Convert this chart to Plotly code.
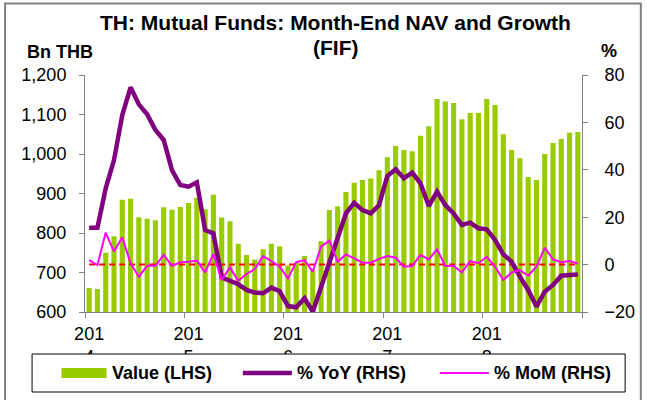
import plotly.graph_objects as go

# ---------------- data ----------------
months = [f"{y}-{m:02d}" for y in range(2014, 2019) for m in range(1, 13)]
year_labels = ["2014", "2015", "2016", "2017", "2018"]

value_lhs = [661, 658, 750, 792, 884, 887, 840, 836, 832, 865, 859, 866,
             876, 889, 860, 897, 839, 830, 773, 744, 733, 759, 773, 766,
             718, 724, 742, 706, 779, 858, 868, 904, 927, 934, 938, 959,
             992, 1020, 1010, 1007, 1046, 1070, 1139, 1133, 1129, 1088, 1104, 1104,
             1139, 1124, 1050, 1010, 989, 942, 934, 1000, 1028, 1038, 1054, 1056]

yoy_rhs = [15.6, 15.6, 32.2, 44.1, 63.1, 74.8, 67.6, 63.4, 56.8, 52.6, 39.9, 33.6,
           32.9, 34.7, 14.6, 13.2, -5.4, -6.9, -8.3, -10.7, -11.8, -12.1, -9.7, -11.2,
           -17.5, -18.0, -14.2, -19.9, -9.3, 1.9, 11.1, 21.6, 26.1, 23.0, 21.6, 25.1,
           37.4, 40.2, 36.4, 38.8, 34.3, 24.7, 30.8, 25.1, 21.6, 16.7, 17.7, 15.3,
           14.9, 10.4, 4.3, 1.2, -5.1, -10.7, -17.7, -11.4, -8.6, -4.7, -4.4, -4.2]

mom_rhs = [1.9, -0.2, 13.5, 5.5, 11.5, 0.5, -5.1, -0.5, -0.5, 4.1, -0.6, 1.0,
           1.2, 1.7, -3.3, 4.5, -6.5, -1.2, -6.8, -4.0, -1.9, 3.6, 1.5, -0.9,
           -5.8, 1.0, 1.9, -3.0, 7.6, 10.1, 1.2, 4.3, 2.6, 0.8, 0.8, 2.4,
           3.6, 2.9, -0.9, -0.6, 4.1, 2.2, 6.4, -0.6, -0.6, -3.3, 1.5, 0.6,
           3.3, -0.9, -6.5, -3.3, -2.3, -4.7, -0.9, 7.1, 2.2, 1.0, 1.5, 0.5]

zero_ref = [0, 0]

lhs_ticks = [600, 700, 800, 900, 1000, 1100, 1200]
rhs_ticks = [-20, 0, 20, 40, 60, 80]

series_names = ["Value (LHS)", "% YoY (RHS)", "% MoM (RHS)"]
title_lines = ["TH: Mutual Funds: Month-End NAV and Growth", "(FIF)"]

# ---------------- layout helpers ----------------
W, H = 647, 400
L, R, T, B = 85, 592, 75, 312
FONT = "Liberation Sans, Arial, sans-serif"
GREEN, PURPLE, MAGENTA, RED = "#99CC00", "#800080", "#FF00FF", "#FF0000"


def px(x):
    return (x - L) / (R - L)


def py(y):
    return (B - y) / (B - T)


xs = list(range(len(months)))
year_pos = [months.index(f"{y}-01") for y in year_labels]
year_text = [f"{s[:3]}<br>{s[3:]}" for s in year_labels]
bounds = [p - 0.5 for p in year_pos] + [len(months) - 0.5]

fig = go.Figure()
fig.add_trace(go.Bar(x=xs, y=value_lhs, name=series_names[0], marker_color=GREEN,
                     marker_line_width=0, width=0.62, showlegend=False))
fig.add_trace(go.Scatter(x=[xs[0], xs[-1]], y=zero_ref, yaxis="y2", mode="lines",
                         line=dict(color=RED, width=2, dash="6px,4px"), showlegend=False))
fig.add_trace(go.Scatter(x=xs, y=yoy_rhs, name=series_names[1], yaxis="y2", mode="lines",
                         line=dict(color=PURPLE, width=4.5), showlegend=False))
fig.add_trace(go.Scatter(x=xs, y=mom_rhs, name=series_names[2], yaxis="y2", mode="lines",
                         line=dict(color=MAGENTA, width=2), showlegend=False))

axis_col = "#808080"
fig.update_layout(
    width=W, height=H,
    margin=dict(l=L, r=W - R, t=T, b=H - B, pad=0),
    paper_bgcolor="white", plot_bgcolor="white",
    font=dict(family=FONT, size=18, color="black"),
    xaxis=dict(range=[-0.5, len(months) - 0.5], showgrid=False, zeroline=False,
               showline=True, linecolor=axis_col, linewidth=1,
               tickmode="array", tickvals=year_pos, ticktext=year_text,
               ticks="", ticklabelstandoff=5,
               tickfont=dict(size=18),
               minor=dict(tickmode="array", tickvals=bounds, ticks="outside",
                          ticklen=5, tickcolor=axis_col, tickwidth=1)),
    yaxis=dict(range=[600, 1200], tickvals=lhs_ticks, tickformat=",d",
               showgrid=False, zeroline=False, showline=True, linecolor=axis_col,
               linewidth=1, ticks="outside", ticklen=5, tickcolor=axis_col,
               ticklabelstandoff=9, tickfont=dict(size=18)),
    yaxis2=dict(range=[-20, 80], tickvals=rhs_ticks, overlaying="y", side="right",
                showgrid=False, zeroline=False, showline=True, linecolor=axis_col,
                linewidth=1, ticks="outside", ticklen=5, tickcolor=axis_col,
                ticklabelstandoff=13, tickfont=dict(size=18)),
    showlegend=False,
)

shapes = []
annotations = []

# title (two lines)
for line, yc in zip(title_lines, [22.5, 47.5]):
    annotations.append(dict(text=line, xref="paper", yref="paper", x=px(341), y=py(yc),
                            xanchor="center", yanchor="middle", showarrow=False,
                            font=dict(family=FONT, size=21, color="black", weight="bold")))

# outer chart frame
shapes.append(dict(type="rect", xref="paper", yref="paper", layer="above",
                   x0=px(3.5), x1=px(652), y0=py(405), y1=py(3.5),
                   line=dict(color="#7f7f7f", width=2), fillcolor="rgba(0,0,0,0)"))

# legend box (covers lower half of the wrapped year labels)
shapes.append(dict(type="rect", xref="paper", yref="paper", layer="above",
                   x0=px(31), x1=px(636), y0=py(392), y1=py(354),
                   line=dict(color="black", width=1), fillcolor="white"))
# legend swatches
shapes.append(dict(type="rect", xref="paper", yref="paper", layer="above",
                   x0=px(61), x1=px(107), y0=py(378), y1=py(368),
                   line=dict(width=0), fillcolor=GREEN))
shapes.append(dict(type="line", xref="paper", yref="paper", layer="above",
                   x0=px(246), x1=px(296), y0=py(373), y1=py(373),
                   line=dict(color=PURPLE, width=4.5)))
shapes.append(dict(type="line", xref="paper", yref="paper", layer="above",
                   x0=px(447), x1=px(497), y0=py(373), y1=py(373),
                   line=dict(color=MAGENTA, width=2)))
for name, x0 in zip(series_names, [111, 299, 500]):
    annotations.append(dict(text=name, xref="paper", yref="paper", x=px(x0), y=py(373),
                            xanchor="left", yanchor="middle", showarrow=False,
                            font=dict(family=FONT, size=18, color="black", weight="bold")))

# axis unit labels
annotations.append(dict(text="Bn THB", xref="paper", yref="paper", x=px(24), y=py(51.5),
                        xanchor="left", yanchor="middle", showarrow=False,
                        font=dict(family=FONT, size=18, color="black", weight="bold")))
annotations.append(dict(text="%", xref="paper", yref="paper", x=px(609), y=py(50.5),
                        xanchor="left", yanchor="middle", showarrow=False,
                        font=dict(family=FONT, size=18, color="black", weight="bold")))

fig.update_layout(shapes=shapes, annotations=annotations)
fig.write_html("out.html")
